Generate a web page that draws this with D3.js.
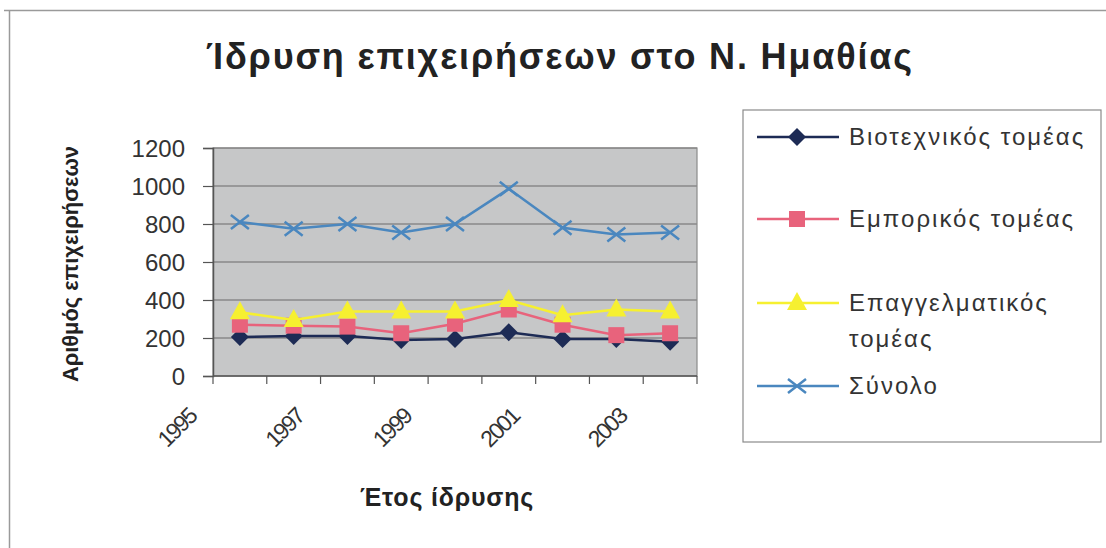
<!DOCTYPE html>
<html>
<head>
<meta charset="utf-8">
<script src="https://cdn.jsdelivr.net/npm/d3@7"></script>
<style>
  body { margin: 0; background: #fff; }
  svg { display: block; font-family: "Liberation Sans", Arial, sans-serif; }
</style>
</head>
<body>
<div id="viz"></div>
<script>
const width = 1106;
const height = 548;
const plot = {left: 213, right: 697, top: 148, bottom: 376};

const years = ['1995', '1996', '1997', '1998', '1999', '2000', '2001', '2002', '2003'];
const yTicks = [0, 200, 400, 600, 800, 1000, 1200];

const biotexnikos = [205, 210, 210, 190, 195, 230, 195, 195, 180];
const emporikos = [270, 265, 260, 225, 275, 350, 270, 215, 225];
const epaggelmatikos = [335, 295, 340, 340, 340, 400, 320, 350, 340];
const synolo = [810, 775, 800, 755, 800, 985, 780, 745, 755];

const series = [
  { label: 'Βιοτεχνικός τομέας', values: biotexnikos, color: '#1d2b55', marker: 'diamond' },
  { label: 'Εμπορικός τομέας', values: emporikos, color: '#e8637c', marker: 'square' },
  { label: 'Επαγγελματικός τομέας', values: epaggelmatikos, color: '#f6f030', marker: 'triangle' },
  { label: 'Σύνολο', values: synolo, color: '#4a87bf', marker: 'cross' },
];

const svg = d3.select('#viz').append('svg')
  .attr('width', width)
  .attr('height', height);

// outer chart frame
svg.append('line').attr('x1', 4).attr('x2', width).attr('y1', 10.5).attr('y2', 10.5)
  .attr('stroke', '#9a9a9a').attr('stroke-width', 1.5);
svg.append('line').attr('x1', 9.5).attr('x2', 9.5).attr('y1', 10).attr('y2', height)
  .attr('stroke', '#9a9a9a').attr('stroke-width', 1.5);

// title
svg.append('text')
  .attr('x', 559).attr('y', 69)
  .attr('text-anchor', 'middle')
  .attr('font-size', 36).attr('font-weight', 'bold')
  .attr('fill', '#222')
  .attr('textLength', 706).attr('lengthAdjust', 'spacing')
  .text('Ίδρυση επιχειρήσεων στο Ν. Ημαθίας');

const x = d3.scaleBand().domain(years).range([plot.left, plot.right]);
const y = d3.scaleLinear().domain([0, 1200]).range([plot.bottom, plot.top]);

// plot area
svg.append('rect')
  .attr('x', plot.left).attr('y', plot.top)
  .attr('width', plot.right - plot.left).attr('height', plot.bottom - plot.top)
  .attr('fill', '#c6c7c8');

svg.append('g').selectAll('line')
  .data(yTicks.filter(d => d > 0))
  .join('line')
  .attr('x1', plot.left).attr('x2', plot.right)
  .attr('y1', d => y(d)).attr('y2', d => y(d))
  .attr('stroke', '#6a6a6a').attr('stroke-width', 1.2);

svg.append('rect')
  .attr('x', plot.left).attr('y', plot.top)
  .attr('width', plot.right - plot.left).attr('height', plot.bottom - plot.top)
  .attr('fill', 'none').attr('stroke', '#8a8a8a').attr('stroke-width', 1.2);

// y axis
const yAxis = svg.append('g')
  .attr('transform', `translate(${plot.left},0)`)
  .call(d3.axisLeft(y).tickValues(yTicks).tickFormat(d3.format('d')).tickSize(10).tickPadding(18));
yAxis.select('.domain').attr('stroke', '#555').attr('stroke-width', 1.5);
yAxis.selectAll('.tick line').attr('stroke', '#555').attr('stroke-width', 1.2);
yAxis.selectAll('.tick text')
  .attr('font-size', 24).attr('fill', '#333')
  .attr('font-family', '"Liberation Sans", Arial, sans-serif')
  .attr('dy', '0.36em');

// x axis: ticks between categories
const bounds = years.map(d => x(d)).concat([plot.right]);
svg.append('line')
  .attr('x1', plot.left).attr('x2', plot.right)
  .attr('y1', plot.bottom).attr('y2', plot.bottom)
  .attr('stroke', '#555').attr('stroke-width', 1.5);
svg.append('g').selectAll('line')
  .data(bounds)
  .join('line')
  .attr('x1', d => d).attr('x2', d => d)
  .attr('y1', plot.bottom).attr('y2', plot.bottom + 8)
  .attr('stroke', '#555').attr('stroke-width', 1.2);

svg.append('g').selectAll('text')
  .data(years.filter((d, i) => i % 2 === 0))
  .join('text')
  .attr('transform', d => `translate(${x(d) + x.bandwidth() / 2 - 42},${plot.bottom + 42}) rotate(-45)`)
  .attr('text-anchor', 'end')
  .attr('font-size', 23)
  .attr('fill', '#333')
  .attr('letter-spacing', -2)
  .text(d => d);

// axis titles
svg.append('text')
  .attr('transform', `translate(78,${(plot.top + plot.bottom) / 2 + 2}) rotate(-90)`)
  .attr('text-anchor', 'middle')
  .attr('font-size', 22).attr('font-weight', 'bold')
  .attr('fill', '#222')
  .attr('textLength', 236).attr('lengthAdjust', 'spacingAndGlyphs')
  .text('Αριθμός επιχειρήσεων');

svg.append('text')
  .attr('x', 447).attr('y', 506)
  .attr('text-anchor', 'middle')
  .attr('font-size', 25).attr('font-weight', 'bold')
  .attr('fill', '#222')
  .attr('letter-spacing', 0.8)
  .text('Έτος ίδρυσης');

// markers
const cx = i => x(years[i]) + x.bandwidth() / 2;

function drawMarker(g, type, color, px, py) {
  if (type === 'diamond') {
    g.append('path')
      .attr('d', `M${px},${py - 9}L${px + 9},${py}L${px},${py + 9}L${px - 9},${py}Z`)
      .attr('fill', color);
  } else if (type === 'square') {
    g.append('rect')
      .attr('x', px - 8).attr('y', py - 8).attr('width', 16).attr('height', 16)
      .attr('fill', color);
  } else if (type === 'triangle') {
    g.append('path')
      .attr('d', `M${px},${py - 11}L${px + 10},${py + 7}L${px - 10},${py + 7}Z`)
      .attr('fill', color);
  } else {
    g.append('path')
      .attr('d', `M${px - 9},${py - 7}L${px + 9},${py + 7}M${px - 9},${py + 7}L${px + 9},${py - 7}`)
      .attr('stroke', color).attr('stroke-width', 2.5).attr('fill', 'none');
  }
}

const line = d3.line().x((d, i) => cx(i)).y(d => y(d));

// total first, then the lower series
[3, 0, 1, 2].forEach(k => {
  const s = series[k];
  const g = svg.append('g');
  g.append('path')
    .datum(s.values)
    .attr('d', line)
    .attr('fill', 'none')
    .attr('stroke', s.color)
    .attr('stroke-width', 2.5);
  s.values.forEach((v, i) => drawMarker(g, s.marker, s.color, cx(i), y(v)));
});

// legend
svg.append('rect')
  .attr('x', 743).attr('y', 110).attr('width', 358).attr('height', 332)
  .attr('fill', '#fff').attr('stroke', '#8a8a8a').attr('stroke-width', 1.2);

const legendY = [137, 219, 303, 386];
series.forEach((s, k) => {
  const g = svg.append('g');
  const ly = legendY[k];
  g.append('line')
    .attr('x1', 757).attr('x2', 839).attr('y1', ly).attr('y2', ly)
    .attr('stroke', s.color).attr('stroke-width', 2.5);
  drawMarker(g, s.marker, s.color, 797, ly);
  const words = k === 2 ? ['Επαγγελματικός', 'τομέας'] : [s.label];
  const t = g.append('text')
    .attr('x', 849).attr('y', ly + 8)
    .attr('font-size', 24)
    .attr('letter-spacing', 2)
    .attr('fill', '#333');
  words.forEach((w, j) => {
    t.append('tspan').attr('x', 849).attr('dy', j === 0 ? 0 : 36).text(w);
  });
});
</script>
</body>
</html>
